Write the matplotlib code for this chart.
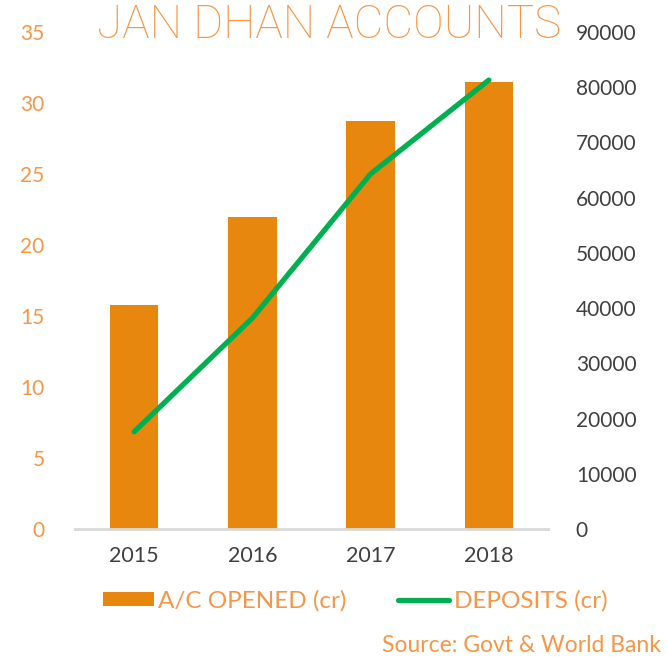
import matplotlib
matplotlib.use("Agg")
import matplotlib.pyplot as plt
from matplotlib.patches import Patch
from matplotlib.lines import Line2D

years = ["2015", "2016", "2017", "2018"]
accounts_cr = [15.8, 22.0, 28.7, 31.5]
deposits_cr = [17600, 38200, 64300, 81300]
left_ticks = [0, 5, 10, 15, 20, 25, 30, 35]
right_ticks = [0, 10000, 20000, 30000, 40000, 50000, 60000, 70000, 80000, 90000]

plt.rcParams['font.family'] = ['Lato', 'DejaVu Sans']
ORANGE_BAR = "#E8870E"
ORANGE_TXT = "#F79646"
GREEN = "#00B050"
DARK = "#404040"

fig = plt.figure(figsize=(6.67, 6.57), dpi=100)
ax = fig.add_axes([75/667, 1-529/657, (548-75)/667, (529-32)/657])
ax2 = ax.twinx()

x = list(range(len(years)))
ax.bar(x, accounts_cr, width=0.41, color=ORANGE_BAR, zorder=2)
ax2.plot(x, deposits_cr, color=GREEN, lw=3.8, solid_capstyle='round', zorder=3)

ax.set_xlim(-0.5, 3.5)
ax.set_ylim(0, 35)
ax2.set_ylim(0, 90000)
ax.set_yticks(left_ticks)
ax2.set_yticks(right_ticks)
ax.set_xticks(x)
ax.set_xticklabels(years)

for a in (ax, ax2):
    for s in a.spines.values():
        s.set_visible(False)
ax.spines['bottom'].set_visible(True)
ax.spines['bottom'].set_color("#D9D9D9")
ax.spines['bottom'].set_linewidth(2)

ax.tick_params(axis='y', length=0, pad=22, labelsize=15, labelcolor=ORANGE_TXT)
ax.tick_params(axis='x', length=0, pad=12, labelsize=15.5, labelcolor=DARK)
ax2.tick_params(axis='y', length=0, pad=20, labelsize=15, labelcolor=DARK)

fig.text(329/667, 1-25/657, "JAN DHAN ACCOUNTS", ha='center', va='center',
         fontsize=33, color=ORANGE_TXT, family=['Roboto', 'Lato', 'DejaVu Sans'],
         fontweight='light')

handles = [Patch(facecolor=ORANGE_BAR, edgecolor='none'),
           Line2D([0], [0], color=GREEN, lw=3.8, solid_capstyle='round')]
leg = fig.legend(handles, ["A/C OPENED (cr)", "DEPOSITS (cr)"], loc='center',
                 bbox_to_anchor=(355/667, 1-601/657), ncol=2, frameon=False,
                 fontsize=17.5, handlelength=2.1, handletextpad=0.2, columnspacing=2.1,
                 handleheight=0.55)
for t in leg.get_texts():
    t.set_color(ORANGE_TXT)

fig.text(661/667, 1-645/657, "Source: Govt & World Bank", ha='right', va='center',
         fontsize=16.5, color=ORANGE_TXT)

fig.savefig("out.png", dpi=100)
